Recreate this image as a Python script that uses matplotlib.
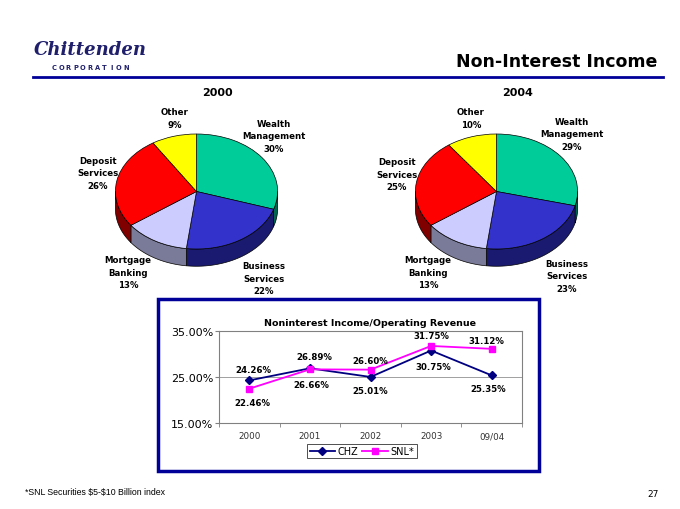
import numpy as np
import matplotlib
matplotlib.use("Agg")
import matplotlib.pyplot as plt
from matplotlib.patches import Rectangle

# ---- data ----
segments = ["Wealth\nManagement", "Business\nServices", "Mortgage\nBanking", "Deposit\nServices", "Other"]
share_2000 = [30, 22, 13, 26, 9]
share_2004 = [29, 23, 13, 25, 10]
top_colors = ["#00CC99", "#3333CC", "#CCCCFF", "#FF0000", "#FFFF00"]
side_colors = ["#006650", "#1A1A70", "#7A7A99", "#800000", "#808000"]

years = ["2000", "2001", "2002", "2003", "09/04"]
chz = [24.26, 26.89, 25.01, 30.75, 25.35]
snl = [22.46, 26.66, 26.60, 31.75, 31.12]

W, H = 680, 510
fig = plt.figure(figsize=(6.8, 5.1), dpi=100)
fig.patch.set_facecolor("white")

def fx(x):
    return x / W

def fy(y):
    return 1 - y / H

# ---- header ----
fig.text(fx(34), fy(50), "Chittenden", fontsize=13, family="DejaVu Serif", style="italic",
         weight="bold", color="#1F1F6B", va="center", ha="left")
corp = "CORPORATION"
for i, ch in enumerate(corp):
    fig.text(fx(54 + i * 7.2), fy(68), ch, fontsize=4.8, weight="bold", color="#1F1F6B",
             ha="center", va="center")
fig.add_artist(plt.Line2D([fx(33), fx(663)], [fy(78), fy(78)], color="#000099", lw=2))
fig.text(fx(657), fy(62), "Non-Interest Income", fontsize=12.5, weight="bold", ha="right", va="center")

# ---- 3D pies ----
DEPTH = 0.3

def draw_pie(cx, values, title, label_pos):
    # axes: x -1..1 -> 163 px, y unit -> 57.5 px, top-face centre at y=192.5
    ry = 57.5
    top = 192.5 - 1.05 * ry
    hgt = 2.55 * ry
    ax = fig.add_axes([fx(cx - 81.5), fy(top + hgt), 163 / W, hgt / H])
    fr = np.array(values, dtype=float) / sum(values)
    edges = 90 - 360 * np.concatenate([[0], np.cumsum(fr)])
    for i in range(len(values)):
        a1, a2 = edges[i], edges[i + 1]
        lo, hi = max(a2, -180), min(a1, 0)
        if lo < hi:
            t = np.radians(np.linspace(lo, hi, 60))
            xs = np.concatenate([np.cos(t), np.cos(t[::-1])])
            ys = np.concatenate([np.sin(t), np.sin(t[::-1]) - DEPTH])
            ax.fill(xs, ys, color=side_colors[i], ec="black", lw=0.5)
    ax.pie(values, colors=top_colors, startangle=90, counterclock=False,
           wedgeprops=dict(edgecolor="black", linewidth=0.5))
    ax.set_aspect("auto")
    ax.set_xlim(-1.005, 1.005)
    ax.set_ylim(-1.5, 1.05)
    ax.axis("off")
    fig.text(fx(cx + 21), fy(93), title, fontsize=8, weight="bold", ha="center", va="center")
    for name, v, (px, py) in zip(segments, values, label_pos):
        fig.text(fx(px), fy(py), f"{name}\n{v}%", fontsize=6.2, weight="bold",
                 ha="center", va="center", linespacing=1.45)

draw_pie(196.5, share_2000, "2000",
         [(274, 137), (264, 279), (128, 273), (98, 174), (175, 119)])
draw_pie(496.5, share_2004, "2004",
         [(572, 135), (567, 277), (428, 273), (397, 175), (471, 119)])

# ---- line chart box ----
fig.patches.append(Rectangle((fx(158), fy(472)), 381 / W, 172 / H, transform=fig.transFigure,
                             fill=False, edgecolor="#000099", lw=2.5))

ax = fig.add_axes([fx(219), fy(424), 303 / W, 92 / H])
x = np.arange(len(years))
ax.plot(x, chz, color="#000080", marker="D", ms=4, lw=1.3, label="CHZ")
ax.plot(x, snl, color="#FF00FF", marker="s", ms=4.5, lw=1.3, label="SNL*")
ax.set_xlim(-0.5, 4.5)
ax.set_ylim(15, 35)
ax.set_yticks([15, 25, 35])
ax.set_yticklabels([f"{v:.2f}%" for v in [15, 25, 35]], fontsize=8)
ax.set_xticks(x)
ax.set_xticklabels(years, fontsize=6.3, color="#333333")
ax.set_xticks(np.arange(-0.5, 5, 1), minor=True)
ax.tick_params(axis="x", which="major", length=0, pad=6)
ax.tick_params(axis="x", which="minor", length=3, color="#808080", direction="out")
ax.tick_params(axis="y", length=3, color="#808080", pad=1)
ax.yaxis.grid(True, color="#A0A0A0", lw=0.7)
ax.set_axisbelow(True)
for s in ax.spines.values():
    s.set_color("#808080")
    s.set_linewidth(0.8)
ax.set_title("Noninterest Income/Operating Revenue", fontsize=6.8, weight="bold", pad=4)

chz_off = [(4, 11), (4, 12), (0, -14), (2, -16), (-4, -13)]
snl_off = [(3, -14), (1, -15), (0, 9), (0, 10), (-5, 8)]
for xi, v, (dx, dy) in zip(x, chz, chz_off):
    ax.annotate(f"{v:.2f}%", (xi, v), xytext=(dx / 1.389, dy / 1.389), textcoords="offset points",
                ha="center", va="center", fontsize=6.2, weight="bold")
for xi, v, (dx, dy) in zip(x, snl, snl_off):
    ax.annotate(f"{v:.2f}%", (xi, v), xytext=(dx / 1.389, dy / 1.389), textcoords="offset points",
                ha="center", va="center", fontsize=6.2, weight="bold")

leg = fig.legend(loc="center", bbox_to_anchor=(fx(362), fy(452)), ncol=2, fontsize=7,
                 frameon=True, fancybox=False, edgecolor="#000000", handlelength=2.6,
                 columnspacing=0.4, handletextpad=0.3, borderpad=0.25)
leg.get_frame().set_linewidth(0.6)

# ---- footer ----
fig.text(fx(25), fy(493), r"*SNL Securities \$5-\$10 Billion index", fontsize=6.3,
         family="Liberation Sans", va="center", ha="left")
fig.text(fx(653), fy(495), "27", fontsize=6.5, va="center", ha="center")

fig.savefig("out.png", dpi=100)
